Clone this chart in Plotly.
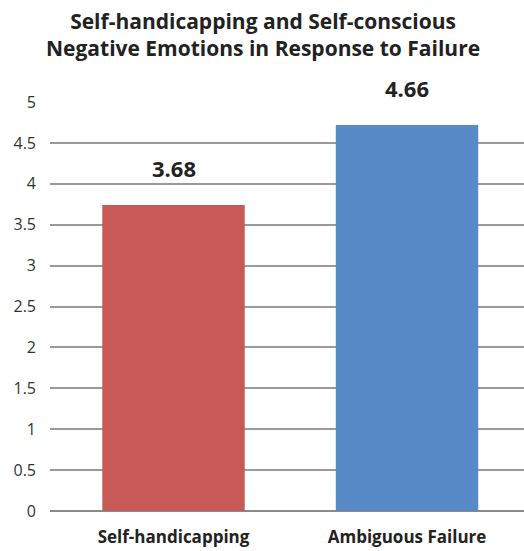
import plotly.graph_objects as go

categories = ["Self-handicapping", "Ambiguous Failure"]
bar_heights = [3.74, 4.72]          # drawn heights
value_labels = ["3.68", "4.66"]     # printed labels
colors = ["#c75a56", "#578ac6"]
y_ticks = [0, 0.5, 1, 1.5, 2, 2.5, 3, 3.5, 4, 4.5, 5]
y_tick_text = ["0", "0.5", "1", "1.5", "2", "2.5", "3", "3.5", "4", "4.5", "5"]

FONT = "Open Sans"

fig = go.Figure()
fig.add_trace(go.Bar(
    x=[0, 1], y=bar_heights, width=0.61,
    marker=dict(color=colors, line=dict(width=0)),
    hoverinfo="skip",
))

for i, (h, lab) in enumerate(zip(bar_heights, value_labels)):
    fig.add_annotation(x=i, y=h, text="<b>" + lab + "</b>", showarrow=False,
                       yanchor="bottom", yshift=20,
                       font=dict(family=FONT, size=22, color="#222"))

fig.add_annotation(
    xref="paper", yref="paper", x=0.45, y=1, xanchor="center", yanchor="bottom",
    yshift=38, showarrow=False,
    text="<b>Self-handicapping and Self-conscious<br>Negative Emotions in Response to Failure</b>",
    font=dict(family=FONT, size=21, color="#222"),
)

fig.update_layout(
    width=524, height=551,
    margin=dict(l=50, r=0, t=102, b=40),
    paper_bgcolor="white", plot_bgcolor="white",
    showlegend=False,
    xaxis=dict(
        range=[-0.529, 1.501], tickvals=[0, 1],
        ticktext=["<b>" + c + "</b>" for c in categories],
        tickfont=dict(family=FONT, size=17, color="#222"),
        showgrid=False, zeroline=False, showline=False, ticks="",
        ticklabelstandoff=14,
    ),
    yaxis=dict(
        range=[0, 5], tickvals=y_ticks, ticktext=y_tick_text,
        tickfont=dict(family=FONT, size=16, color="#333"),
        showgrid=True, gridcolor="#9a9a9a", gridwidth=2,
        zeroline=True, zerolinecolor="#8a8a8a", zerolinewidth=2,
        showline=False, ticks="", ticklabelstandoff=13,
    ),
)

fig.write_html("out.html", config={"displayModeBar": False},
               post_script="document.body.style.margin='0';")
